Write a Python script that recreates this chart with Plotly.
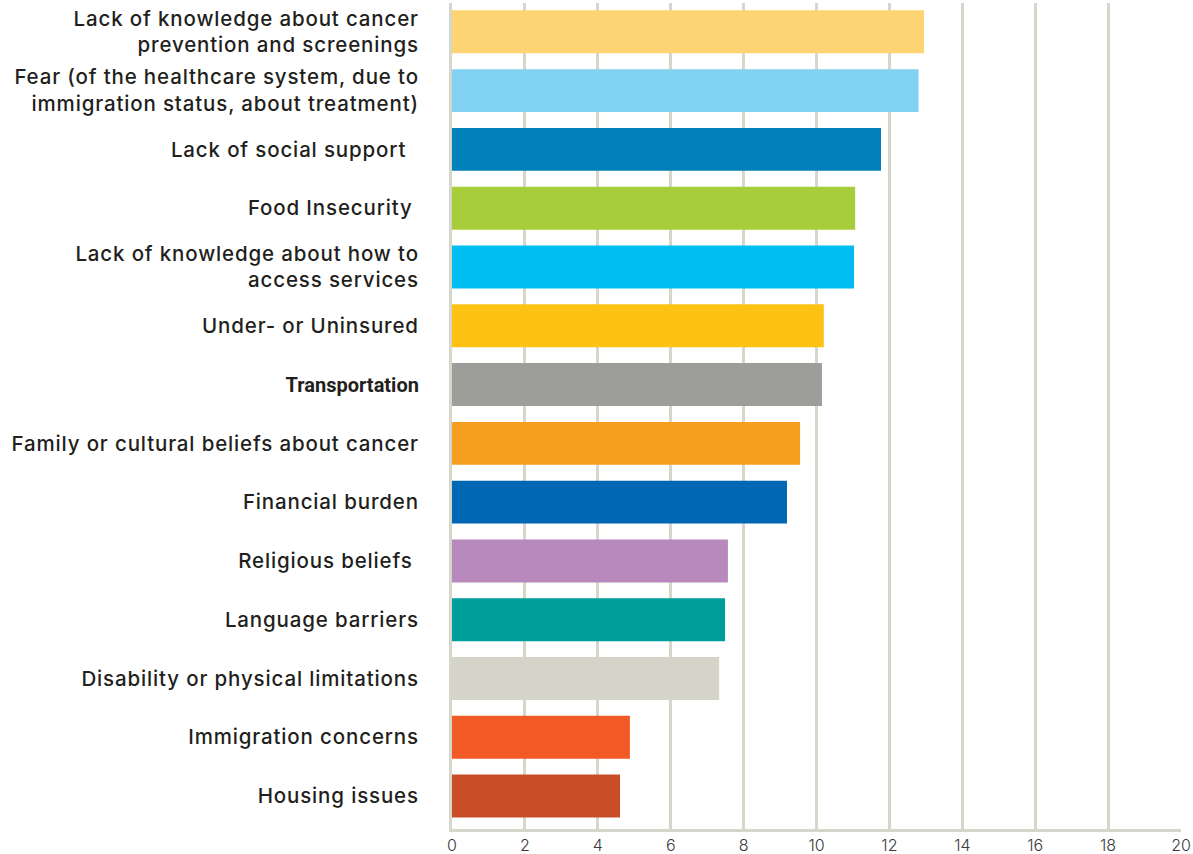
import plotly.graph_objects as go

categories = [
    "Lack of knowledge about cancer<br>prevention and screenings",
    "Fear (of the healthcare system, due to<br>immigration status, about treatment)",
    "Lack of social support\u00a0\u00a0",
    "Food Insecurity\u00a0",
    "Lack of knowledge about how to<br>access services",
    "Under- or Uninsured",
    "Transportation",
    "Family or cultural beliefs about cancer",
    "Financial burden",
    "Religious beliefs\u00a0",
    "Language barriers",
    "Disability or physical limitations",
    "Immigration concerns",
    "Housing issues",
]
values = [12.95, 12.8, 11.77, 11.06, 11.03, 10.2, 10.15, 9.55, 9.19, 7.57, 7.49, 7.33, 4.88, 4.61]
colors = ["#FDD474", "#82D3F2", "#0081B9", "#A7CE3A", "#00BDF2", "#FDC214", "#9D9E99",
          "#F69E20", "#0067B4", "#B889BC", "#009E98", "#D4D4C8", "#F15A24", "#C84E28"]
xticks = [0, 2, 4, 6, 8, 10, 12, 14, 16, 18, 20]


def styled(label):
    if label == "Transportation":
        return ("<span style='font-family:Roboto;font-size:20px;font-weight:bold'>"
                + label + "</span>")
    return "<br>".join("<span style='letter-spacing:0.85px'>" + ln + "</span>"
                       for ln in label.split("<br>"))


labels = [styled(c) for c in categories]

fig = go.Figure(go.Bar(
    x=values, y=labels, orientation="h",
    marker=dict(color=colors, line=dict(width=0)),
    width=0.73,
))

fig.update_layout(
    width=1193, height=854,
    margin=dict(l=452, r=12, t=3, b=25),
    plot_bgcolor="white", paper_bgcolor="white",
    showlegend=False,
    font=dict(family="Inter", color="#231F20"),
)
fig.update_xaxes(
    range=[0, 20], tickvals=xticks, ticktext=[str(v) for v in xticks],
    showgrid=True, gridcolor="#D6D6CA", gridwidth=3,
    showline=True, linecolor="#D6D6CA", linewidth=3,
    zeroline=False, ticks="", automargin=False,
    tickfont=dict(size=16, color="#3A3A3A", family="Inter", weight=300),
)
fig.update_yaxes(
    range=[13.56, -0.49], showgrid=False,
    showline=True, linecolor="#D6D6CA", linewidth=3,
    ticks="", ticklabelstandoff=26, automargin=False,
    tickfont=dict(size=20.5, color="#231F20", family="Inter", weight=500),
)

fig.write_html("out.html", config={"displayModeBar": False},
               post_script="document.body.style.margin='0';document.body.style.overflow='hidden';")
